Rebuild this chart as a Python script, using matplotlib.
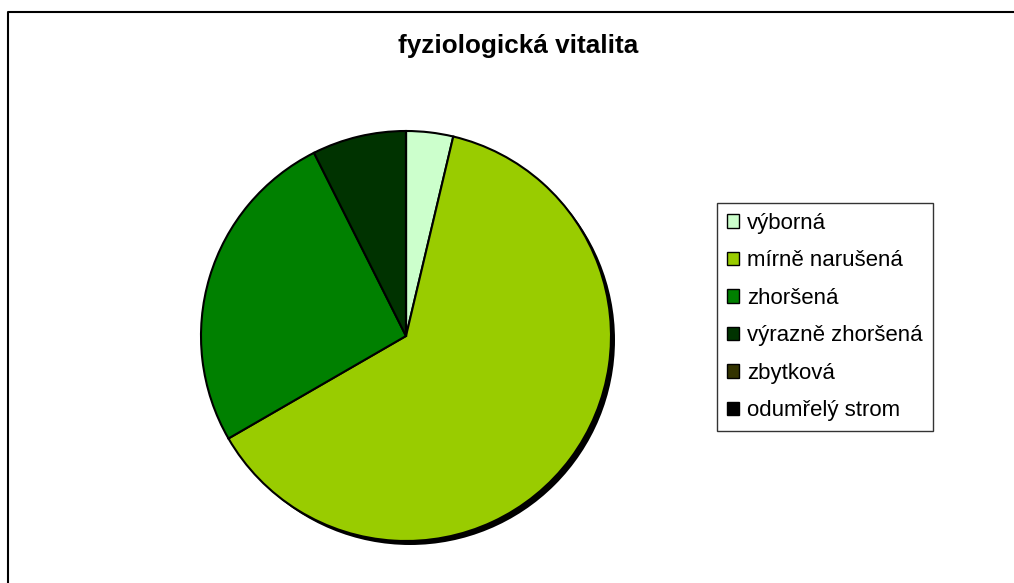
import matplotlib
matplotlib.use("Agg")
import matplotlib.pyplot as plt
from matplotlib.patches import Circle, Patch
from matplotlib.lines import Line2D

plt.rcParams['font.family'] = ['Liberation Sans', 'DejaVu Sans']

title = "fyziologická vitalita"
categories = ["výborná", "mírně narušená", "zhoršená", "výrazně zhoršená", "zbytková", "odumřelý strom"]
values = [1, 17, 7, 2, 0, 0]
colors = ["#CCFFCC", "#99CC00", "#008000", "#003300", "#333300", "#000000"]

W, H = 1014, 583
fig = plt.figure(figsize=(W / 100, H / 100), dpi=100)
ax = fig.add_axes([0, 0, 1, 1])

cx, cy, r = 406, H - 336, 205

# shadow
ax.add_patch(Circle((cx + 4, cy - 4), r, facecolor='black', edgecolor='none', zorder=1))

wedges, _ = ax.pie(values, colors=colors, startangle=90, counterclock=False,
                   center=(cx, cy), radius=r, frame=True,
                   wedgeprops=dict(edgecolor='black', linewidth=1.5))
for w in wedges:
    w.set_zorder(2)
ax.set_xlim(0, W)
ax.set_ylim(0, H)
ax.set_aspect('equal')
ax.axis('off')

# outer frame (left and top edges visible)
ax.add_line(Line2D([8, 8, W + 5], [-5, H - 12, H - 12], color='black', linewidth=1.5))

fig.text(518 / W, 1 - 46 / H, title, ha='center', va='center', fontsize=18.8, fontweight='bold')

handles = [Patch(facecolor=c, edgecolor='black', linewidth=1) for c in colors]
leg = fig.legend(handles, categories, loc='upper left',
                 bbox_to_anchor=(717 / W, 1 - 203 / H), borderaxespad=0,
                 fontsize=16, frameon=True, fancybox=False, edgecolor='black',
                 handlelength=0.55, handleheight=0.55, handletextpad=0.36,
                 labelspacing=0.74, borderpad=0.45)
leg.get_frame().set_linewidth(1)

fig.savefig("out.png", dpi=100)
